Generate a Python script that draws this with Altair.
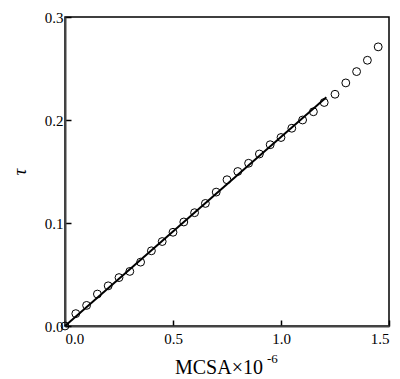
import altair as alt
import pandas as pd

# Data
mcsa = [0.00, 0.05, 0.10, 0.15, 0.20, 0.25, 0.30, 0.35, 0.40, 0.45,
        0.50, 0.55, 0.60, 0.65, 0.70, 0.75, 0.80, 0.85, 0.90, 0.95,
        1.00, 1.05, 1.10, 1.15, 1.20, 1.25, 1.30, 1.35, 1.40, 1.45]
tau = [0.000, 0.012, 0.020, 0.031, 0.039, 0.047, 0.053, 0.062, 0.073, 0.082,
       0.091, 0.101, 0.110, 0.119, 0.130, 0.142, 0.150, 0.158, 0.167, 0.176,
       0.183, 0.192, 0.200, 0.208, 0.217, 0.225, 0.236, 0.247, 0.258, 0.271]
fit_x = [0.0, 1.21]
fit_y = [0.0, 0.222]
x_ticks = [0.0, 0.5, 1.0, 1.5]
y_ticks = [0.0, 0.1, 0.2, 0.3]

FONT = "Liberation Serif"

pts = pd.DataFrame({"x": mcsa, "y": tau})
fit = pd.DataFrame({"x": fit_x, "y": fit_y})

xscale = alt.Scale(domain=[0, 1.5], nice=False, zero=False)
yscale = alt.Scale(domain=[0, 0.3], nice=False, zero=False)

xaxis = alt.Axis(values=x_ticks, format=".1f", title=None, grid=False,
                 labelPadding=11)
yaxis = alt.Axis(values=y_ticks, format=".1f", title="τ", grid=False,
                 titleFontStyle="italic", titleFontSize=19, titleFontWeight="normal",
                 titleFont=FONT, titlePadding=15, labelPadding=8)

line = alt.Chart(fit).mark_line(color="black", strokeWidth=2).encode(
    x=alt.X("x:Q", scale=xscale, axis=xaxis),
    y=alt.Y("y:Q", scale=yscale, axis=yaxis),
)

circles = alt.Chart(pts).mark_point(shape="circle", filled=False, color="black",
                                    size=62, strokeWidth=1, opacity=1).encode(
    x=alt.X("x:Q", scale=xscale),
    y=alt.Y("y:Q", scale=yscale),
)

title_main = alt.Chart(pd.DataFrame({"t": ["MCSA×10"]})).mark_text(
    font=FONT, fontSize=20, align="left", baseline="alphabetic", color="black"
).encode(x=alt.value(110), y=alt.value(357), text="t:N")

title_sup = alt.Chart(pd.DataFrame({"t": ["-6"]})).mark_text(
    font=FONT, fontSize=13, align="left", baseline="alphabetic", color="black"
).encode(x=alt.value(202), y=alt.value(346), text="t:N")

chart = alt.layer(line, circles, title_main, title_sup).properties(
    width=324, height=309,
    padding={"left": 57, "top": 9, "right": 3, "bottom": 52},
    autosize=alt.AutoSizeParams(type="none"),
).configure_view(
    stroke="black", strokeWidth=1.5
).configure_axis(
    labelFont=FONT, labelFontSize=15, labelColor="black",
    domainColor="#444444", domainWidth=2,
    tickColor="black", tickWidth=1.5, tickSize=alt.ExprRef("-6"),
)

chart.save("out.html", embed_options={"renderer": "svg", "actions": False})
